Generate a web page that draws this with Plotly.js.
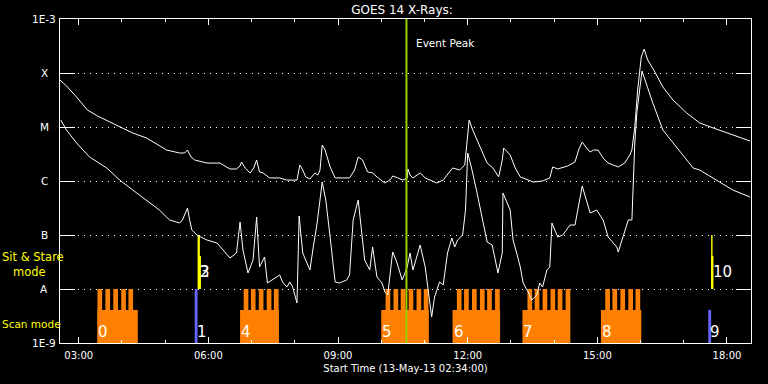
<!DOCTYPE html>
<html>
<head>
<meta charset="utf-8">
<script src="https://cdn.plot.ly/plotly-3.0.1.min.js"></script>
<style>
  html, body { margin: 0; padding: 0; background: #000; }
  #chart { width: 768px; height: 384px; }
</style>
</head>
<body>
<div id="chart"></div>
<script>
// ---------------- data ----------------
const DAY = '2013-05-13 ';

// GOES 14 long channel (upper curve), W/m^2
const upperTimes = ['02:34','02:43','02:57','03:12','03:26','03:43','04:02','04:15','04:34','05:02','05:20','05:27','05:31','05:36','05:41','05:58','06:16','06:30','06:39','06:44','06:46','06:51','06:58','07:03','07:07','07:11','07:16','07:25','07:39','07:49','08:03','08:07','08:11','08:15','08:21','08:28','08:32','08:35','08:38','08:42','08:49','08:56','09:16','09:23','09:28','09:34','09:41','09:48','09:54','10:05','10:12','10:16','10:23','10:30','10:36','10:37','10:40','10:44','10:54','11:01','11:17','11:26','11:39','11:49','11:56','11:59','12:02','12:07','12:17','12:27','12:35','12:43','12:48','12:50','12:59','13:06','13:13','13:31','13:44','13:54','13:58','14:05','14:19','14:29','14:34','14:39','14:44','14:50','14:55','15:01','15:08','15:15','15:29','15:38','15:45','15:48','15:52','15:56','16:01','16:05','16:10','16:20','16:31','16:45','17:04','17:22','17:41','18:08','18:32'];
const upperFlux = [7.42e-5,5.75e-5,3.59e-5,2.07e-5,1.60e-5,1.24e-5,9.58e-6,7.74e-6,6.26e-6,3.75e-6,3.30e-6,3.30e-6,3.75e-6,2.78e-6,2.45e-6,2.15e-6,2.15e-6,1.67e-6,1.67e-6,1.90e-6,2.25e-6,1.74e-6,1.41e-6,1.74e-6,2.45e-6,1.47e-6,1.41e-6,1.14e-6,1.14e-6,1.04e-6,1.04e-6,1.98e-6,1.60e-6,1.19e-6,1.09e-6,1.41e-6,1.29e-6,1.60e-6,4.64e-6,3.75e-6,1.82e-6,1.14e-6,1.14e-6,1.60e-6,2.78e-6,2.45e-6,1.47e-6,1.41e-6,1.19e-6,9.18e-7,1.04e-6,1.24e-6,1.14e-6,1.04e-6,1.14e-6,1.67e-6,1.29e-6,1.14e-6,1.41e-6,1.14e-6,9.18e-7,1.04e-6,1.74e-6,1.60e-6,1.98e-6,5.75e-6,1.35e-5,8.80e-6,4.26e-6,2.15e-6,1.74e-6,1.19e-6,2.45e-6,4.08e-6,3.03e-6,1.74e-6,1.19e-6,9.58e-7,1.00e-6,1.14e-6,1.82e-6,1.67e-6,1.90e-6,2.25e-6,3.75e-6,5.28e-6,4.26e-6,3.44e-6,3.75e-6,3.75e-6,2.67e-6,2.15e-6,1.82e-6,2.15e-6,3.03e-6,3.75e-6,1.00e-5,4.84e-5,1.98e-4,2.78e-4,1.74e-4,1.04e-4,5.51e-5,3.16e-5,1.82e-5,1.19e-5,9.58e-6,7.11e-6,5.51e-6];

// GOES 14 short channel (lower curve), W/m^2
const lowerTimes = ['02:35','02:43','02:57','03:15','03:39','03:57','04:15','04:34','04:52','05:06','05:20','05:24','05:29','05:31','05:34','05:37','05:44','05:58','06:12','06:26','06:30','06:39','06:44','06:48','06:55','07:02','07:07','07:11','07:18','07:22','07:29','07:39','07:43','07:49','07:53','07:57','08:03','08:06','08:11','08:21','08:25','08:31','08:38','08:43','08:49','08:56','09:02','09:12','09:16','09:21','09:28','09:33','09:37','09:44','09:48','09:54','10:01','10:05','10:09','10:15','10:16','10:22','10:29','10:33','10:36','10:40','10:44','10:54','11:01','11:10','11:14','11:21','11:26','11:32','11:38','11:42','11:46','11:53','11:57','12:00','12:06','12:13','12:20','12:27','12:34','12:42','12:48','12:49','12:59','13:03','13:08','13:13','13:17','13:24','13:29','13:36','13:40','13:44','13:50','13:54','13:57','13:58','14:05','14:12','14:22','14:29','14:39','14:50','14:59','15:08','15:15','15:27','15:29','15:38','15:43','15:48','15:52','15:55','16:02','16:10','16:17','16:31','16:45','17:04','17:13','17:22','17:46','18:08','18:32'];
const lowerFlux = [1.35e-5,8.80e-6,5.06e-6,2.78e-6,1.74e-6,1.04e-6,6.81e-7,4.45e-7,2.90e-7,1.90e-7,1.67e-7,1.90e-7,2.67e-7,3.16e-7,1.90e-7,1.24e-7,1.00e-7,8.08e-8,7.11e-8,4.26e-8,3.75e-8,4.64e-8,1.74e-7,5.28e-8,1.98e-8,3.44e-8,2.15e-7,2.56e-8,3.91e-8,1.29e-8,1.47e-8,1.82e-8,1.35e-8,1.09e-8,1.35e-8,1.09e-8,5.51e-9,2.25e-7,4.64e-8,2.25e-8,5.28e-8,1.67e-7,9.58e-7,4.45e-7,9.18e-8,1.35e-8,1.29e-8,1.47e-8,1.82e-8,1.90e-7,4.45e-7,9.18e-8,3.44e-8,2.25e-8,6.00e-8,1.67e-8,1.29e-8,8.80e-9,7.74e-9,3.91e-8,4.84e-8,3.03e-8,1.47e-8,1.98e-8,2.56e-8,4.64e-8,2.25e-8,6.53e-8,2.56e-8,3.03e-9,7.11e-9,1.35e-8,1.19e-8,4.64e-8,8.80e-8,6.00e-8,8.08e-8,1.00e-7,2.90e-7,3.30e-6,1.60e-6,6.00e-7,2.15e-7,7.42e-8,6.53e-8,1.98e-8,4.64e-8,6.00e-7,2.90e-7,8.08e-8,4.64e-8,2.56e-8,1.29e-8,8.80e-9,6.26e-9,7.74e-9,1.29e-8,1.09e-8,2.25e-8,2.56e-8,1.67e-7,1.53e-7,9.18e-8,1.00e-7,1.53e-7,1.53e-7,8.08e-7,2.56e-7,2.90e-7,1.90e-7,9.18e-8,6.00e-8,4.84e-8,1.24e-7,1.90e-7,1.90e-7,5.06e-6,1.90e-5,1.09e-4,5.28e-5,2.78e-5,8.80e-6,5.06e-6,2.45e-6,1.74e-6,1.60e-6,1.04e-6,6.81e-7,5.06e-7];

// Scan-mode observation blocks
const scanLabels = ['0','4','5','6','7','8'];
const scanStart  = ['03:26','06:44','10:00','11:39','13:16','15:05'];
const scanEnd    = ['04:22','07:38','11:06','12:45','14:22','16:01'];
const scanLevel  = 4.1e-9;   // height of the block body
const rasterLevel = 1e-8;    // height of each raster tooth
const rasterStarts = [
  ['03:26','03:37','03:48','03:59','04:09'],
  ['06:49','06:59','07:10','07:21','07:31'],
  ['10:06','10:17','10:27','10:38','10:49','10:59'],
  ['11:45','11:55','12:06','12:17','12:27','12:38'],
  ['13:23','13:33','13:44','13:55','14:05','14:16'],
  ['15:11','15:21','15:32','15:43','15:53']
];
const rasterMinutes = 6.5;

// Single scan-mode pointings (blue)
const singleLabels = ['1','9'];
const singleStart  = ['05:41','17:34'];
const singleTop    = [1e-8, 4.1e-9];
const singleMinutes = [4, 4];

// Sit & Stare observations (yellow)
const stareLabels  = ['2','3','10',''];
const stareStart   = ['05:45','05:46','17:38','17:38'];
const stareTop     = [1e-7, 4.1e-8, 1e-7, 4.1e-8];
const stareMinutes = [3.2, 3.7, 2, 3.2];

const eventPeak = '10:35';

const tickVals = [1e-9, 1e-8, 1e-7, 1e-6, 1e-5, 1e-4, 1e-3];
const tickText = ['1E-9', 'A', 'B', 'C', 'M', 'X', '1E-3'];

// ---------------- helpers ----------------
const FLOOR = 1e-9;
const T = t => DAY + t;
const minToMs = m => m * 60000;
const hm = t => { const p = t.split(':'); return (+p[0]) * 60 + (+p[1]); };

const FONT = 'DejaVu Sans, Verdana, sans-serif';
const ORANGE = '#ff8000';
const BLUE = '#6464ff';
const YELLOW = '#ffff00';
const GREEN = 'rgb(154,205,0)';

// ---------------- traces ----------------
const traces = [];

traces.push({
  type: 'bar', name: 'Scan blocks',
  x: scanStart.map(T),
  y: scanStart.map(() => scanLevel - FLOOR),
  base: FLOOR,
  width: scanStart.map((s, i) => minToMs(hm(scanEnd[i]) - hm(s))),
  offset: 0,
  marker: { color: ORANGE, line: { width: 0 } },
  hoverinfo: 'skip'
});

const allRasters = rasterStarts.flat();
traces.push({
  type: 'bar', name: 'Rasters',
  x: allRasters.map(T),
  y: allRasters.map(() => rasterLevel - FLOOR),
  base: FLOOR,
  width: minToMs(rasterMinutes),
  offset: 0,
  marker: { color: ORANGE, line: { width: 0 } },
  hoverinfo: 'skip'
});

traces.push({
  type: 'bar', name: 'Scan pointing',
  x: singleStart.map(T),
  y: singleTop.map(v => v - FLOOR),
  base: FLOOR,
  width: singleMinutes.map(minToMs),
  offset: 0,
  marker: { color: BLUE, line: { width: 0 } },
  hoverinfo: 'skip'
});

traces.push({
  type: 'bar', name: 'Sit & Stare',
  x: stareStart.map(T),
  y: stareTop.map(v => v - 1e-8),
  base: 1e-8,
  width: stareMinutes.map(minToMs),
  offset: 0,
  marker: { color: YELLOW, line: { width: 0 } },
  hoverinfo: 'skip'
});

traces.push({
  type: 'scatter', mode: 'lines', name: '1-8 A',
  x: upperTimes.map(T), y: upperFlux,
  line: { color: '#ffffff', width: 1 },
  hoverinfo: 'skip'
});
traces.push({
  type: 'scatter', mode: 'lines', name: '0.5-4 A',
  x: lowerTimes.map(T), y: lowerFlux,
  line: { color: '#ffffff', width: 1 },
  hoverinfo: 'skip'
});

// ---------------- annotations ----------------
const annotations = [];
const axFont = { family: FONT, size: 10.5, color: '#ffffff' };

tickVals.forEach((v, i) => annotations.push({
  xref: 'paper', x: 0, xshift: -16, xanchor: 'center',
  yref: 'y', y: Math.log10(v), yanchor: 'middle',
  text: tickText[i], showarrow: false, font: axFont
}));

const yFont = { family: FONT, size: 11.5, color: YELLOW };
annotations.push({
  xref: 'paper', x: 0, xshift: -60, xanchor: 'left',
  yref: 'paper', y: 0.241, yanchor: 'middle', align: 'left',
  text: 'Sit & Stare<br>\u00a0\u00a0\u00a0mode', showarrow: false, font: yFont
});
annotations.push({ xref: 'paper', x: 0, xshift: -60, xanchor: 'left', yref: 'paper', y: 0.0586, yanchor: 'middle', text: 'Scan mode', showarrow: false, font: { family: FONT, size: 10.5, color: YELLOW } });

const numFont = { family: FONT, size: 15, color: '#ffffff' };
const scanLabelY = Math.log10(1.6e-9);
const stareLabelY = Math.log10(2.07e-8);
scanLabels.forEach((l, i) => annotations.push({
  x: T(scanStart[i]), y: scanLabelY, xanchor: 'left', yanchor: 'middle',
  text: l, showarrow: false, font: numFont, xshift: -1
}));
singleLabels.forEach((l, i) => annotations.push({
  x: T(singleStart[i]), y: scanLabelY, xanchor: 'left', yanchor: 'middle',
  text: l, showarrow: false, font: numFont, xshift: 0
}));
stareLabels.forEach((l, i) => { if (l) annotations.push({
  x: T(stareStart[i]), y: stareLabelY, xanchor: 'left', yanchor: 'middle',
  text: l, showarrow: false, font: numFont, xshift: 0
}); });

annotations.push({
  x: T(eventPeak), xshift: 8, xanchor: 'left',
  yref: 'paper', y: 1 - 24 / 324, yanchor: 'middle',
  text: 'Event Peak', showarrow: false, font: { family: FONT, size: 10.5, color: '#ffffff' }
});

// ---------------- layout ----------------
const layout = {
  width: 768, height: 384,
  margin: { l: 60, r: 17, t: 19, b: 41, pad: 0 },
  paper_bgcolor: '#000000',
  plot_bgcolor: '#000000',
  showlegend: false,
  hovermode: false,
  barmode: 'overlay',
  title: {
    text: 'GOES 14 X-Rays:',
    font: { family: FONT, size: 12, color: '#ffffff' },
    xref: 'container', x: 402 / 768, xanchor: 'center',
    yref: 'container', y: 1 - 10 / 384, yanchor: 'middle'
  },
  xaxis: {
    type: 'date',
    range: [T('02:34'), T('18:33:20')],
    tick0: T('03:00'), dtick: 3 * 3600000,
    tickformat: '%H:%M',
    ticks: 'inside', ticklen: 6, tickwidth: 1, tickcolor: '#ffffff',
    ticklabelstandoff: 3,
    minor: { dtick: 3600000, ticks: 'inside', ticklen: 3, tickwidth: 1, tickcolor: '#ffffff', showgrid: false },
    showline: true, linecolor: '#ffffff', linewidth: 1, mirror: 'allticks',
    showgrid: false, zeroline: false,
    tickfont: { family: FONT, size: 10, color: '#ffffff' },
    title: { text: 'Start Time (13-May-13 02:34:00)', font: { family: FONT, size: 10, color: '#ffffff' }, standoff: 4 }
  },
  yaxis: {
    type: 'log',
    range: [-9, -3],
    tickmode: 'array', tickvals: tickVals, ticktext: tickText,
    showticklabels: false,
    ticks: 'inside', ticklen: 15, tickwidth: 1, tickcolor: '#ffffff',
    showline: true, linecolor: '#ffffff', linewidth: 1, mirror: 'allticks',
    showgrid: true, gridcolor: '#ffffff', gridwidth: 1, griddash: '1px,5px',
    zeroline: false
  },
  shapes: [{
    type: 'line', xref: 'x', yref: 'paper',
    x0: T(eventPeak), x1: T(eventPeak), y0: 0, y1: 1,
    line: { color: GREEN, width: 2 }, layer: 'above'
  }],
  annotations: annotations
};

Plotly.newPlot('chart', traces, layout, { staticPlot: true, displayModeBar: false });
</script>
</body>
</html>
